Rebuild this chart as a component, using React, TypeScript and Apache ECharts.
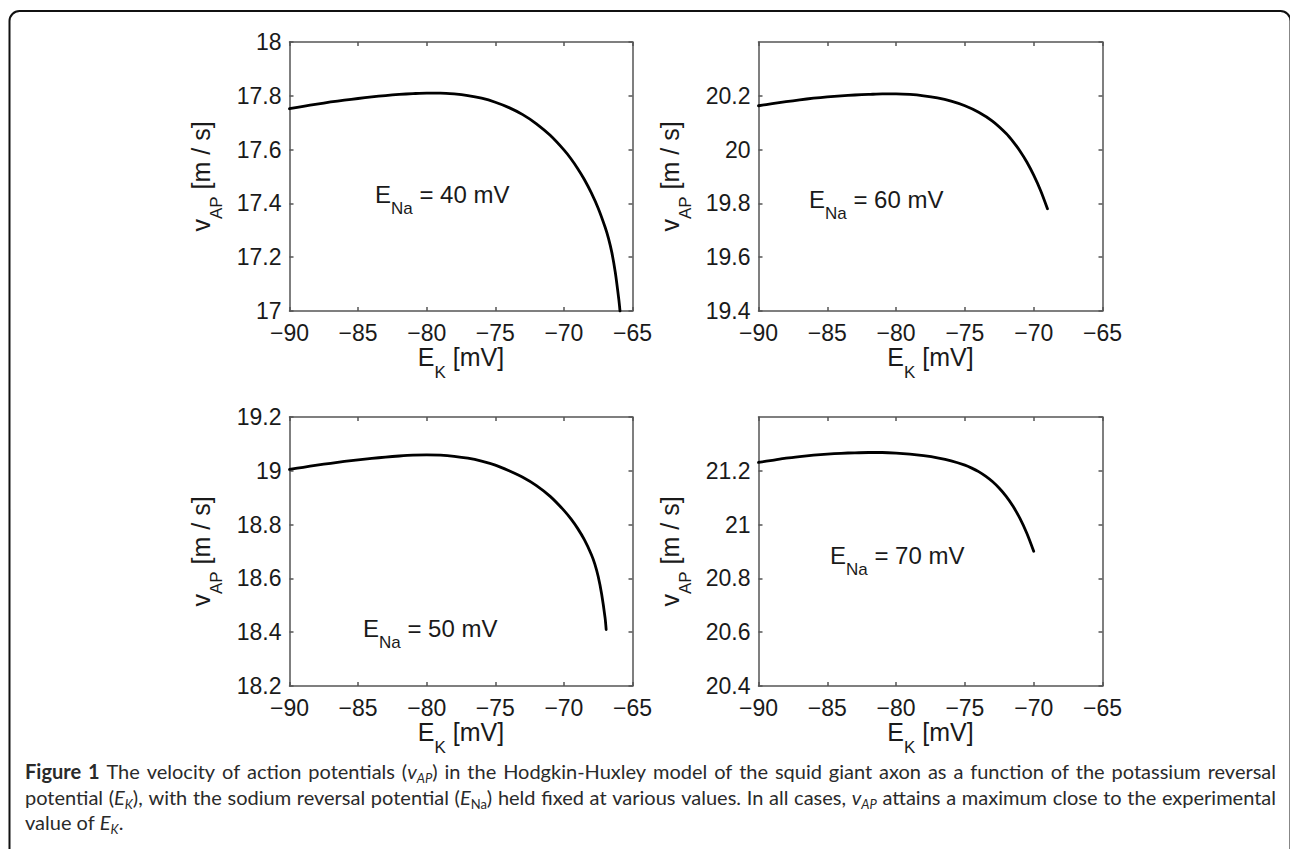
import React, { useEffect, useRef } from "react";
import * as echarts from "echarts";

// ---------------- data ----------------
const X_MIN = -90;
const X_MAX = -65;
const X_STEP = 5;
const Y_STEP = 0.2;

// E_Na = 40 mV
const ekNa40 = [-90, -89, -88, -87, -86, -85, -84, -83, -82, -81, -80, -79, -78, -77, -76, -75, -74, -73, -72, -71, -70, -69.5, -69, -68.5, -68, -67.5, -67, -66.75, -66.5, -66.25, -66, -65.91];
const vNa40 = [17.752, 17.761, 17.769, 17.777, 17.784, 17.79, 17.796, 17.801, 17.805, 17.808, 17.81, 17.81, 17.807, 17.801, 17.791, 17.776, 17.756, 17.73, 17.696, 17.653, 17.599, 17.567, 17.53, 17.488, 17.439, 17.382, 17.312, 17.27, 17.216, 17.142, 17.044, 17.0];

// E_Na = 60 mV
const ekNa60 = [-90, -89, -88, -87, -86, -85, -84, -83, -82, -81, -80, -79, -78, -77, -76, -75, -74, -73, -72, -71.5, -71, -70.5, -70, -69.5, -69];
const vNa60 = [20.163, 20.171, 20.178, 20.185, 20.191, 20.196, 20.2, 20.203, 20.205, 20.207, 20.207, 20.205, 20.2, 20.192, 20.18, 20.163, 20.139, 20.106, 20.06, 20.03, 19.995, 19.954, 19.905, 19.848, 19.78];

// E_Na = 50 mV
const ekNa50 = [-90, -89, -88, -87, -86, -85, -84, -83, -82, -81, -80, -79, -78, -77, -76, -75, -74, -73, -72, -71, -70, -69.5, -69, -68.5, -68, -67.75, -67.5, -67.25, -67, -66.92];
const vNa50 = [19.005, 19.013, 19.021, 19.028, 19.035, 19.041, 19.046, 19.051, 19.055, 19.058, 19.059, 19.058, 19.054, 19.047, 19.036, 19.021, 19.0, 18.976, 18.945, 18.905, 18.853, 18.822, 18.786, 18.743, 18.689, 18.654, 18.607, 18.542, 18.454, 18.41];

// E_Na = 70 mV
const ekNa70 = [-90, -89, -88, -87, -86, -85, -84, -83, -82, -81, -80, -79, -78, -77, -76, -75, -74.5, -74, -73.5, -73, -72.5, -72, -71.5, -71, -70.5, -70];
const vNa70 = [21.231, 21.239, 21.247, 21.253, 21.258, 21.262, 21.265, 21.267, 21.268, 21.268, 21.266, 21.262, 21.256, 21.248, 21.237, 21.221, 21.21, 21.197, 21.18, 21.16, 21.135, 21.105, 21.068, 21.023, 20.968, 20.901];

const yRanges = [
  [17, 18],
  [19.4, 20.4],
  [18.2, 19.2],
  [20.4, 21.4],
];
const eNaValues = ["40", "60", "50", "70"];

// caption fragments: [style, text]
const captionLine1 = [
  ["b", "Figure 1"],
  ["n", " The velocity of action potentials ("],
  ["i", "v"],
  ["is", "AP"],
  ["n", ") in the Hodgkin-Huxley model of the squid giant axon as a function of the potassium reversal"],
];
const captionLine2 = [
  ["n", "potential ("],
  ["i", "E"],
  ["is", "K"],
  ["n", "), with the sodium reversal potential ("],
  ["i", "E"],
  ["s", "Na"],
  ["n", ") held fixed at various values. In all cases, "],
  ["i", "v"],
  ["is", "AP"],
  ["n", " attains a maximum close to the experimental"],
];
const captionLine3 = [
  ["n", "value of "],
  ["i", "E"],
  ["is", "K"],
  ["n", "."],
];

// ---------------- layout & style ----------------
const FONT = "'Liberation Sans', Arial, Helvetica, sans-serif";
const CAP_FONT = "Lato, 'Open Sans', sans-serif";
const TXT = "#1a1a1a";
const AXC = { color: "#555", width: 1.5 };

const PANELS = [
  { ek: ekNa40, v: vNa40, grid: { left: 289.5, top: 42, width: 343, height: 269 }, ann: [375, 194.5], hideMax: false },
  { ek: ekNa60, v: vNa60, grid: { left: 758.5, top: 42, width: 344, height: 269 }, ann: [809, 199.5], hideMax: true },
  { ek: ekNa50, v: vNa50, grid: { left: 289.5, top: 417, width: 343, height: 269 }, ann: [363, 628.5], hideMax: false },
  { ek: ekNa70, v: vNa70, grid: { left: 758.5, top: 417, width: 344, height: 269 }, ann: [830, 555.5], hideMax: true },
];

const CAP_MAX_SIZE = 20;
const CAP_LEFT = 25;
const CAP_WIDTH = 1251;
const CAP_CENTERS = [771, 797, 822];

function capFonts(size: number) {
  const sub = Math.round(size * 0.65);
  return {
    b: `bold ${size}px ${CAP_FONT}`,
    n: `${size}px ${CAP_FONT}`,
    i: `italic ${size}px ${CAP_FONT}`,
    is: `italic ${sub}px ${CAP_FONT}`,
    s: `${sub}px ${CAP_FONT}`,
  } as Record<string, string>;
}

function splitItems(frags: string[][]) {
  const items: { st: string; t: string }[] = [];
  frags.forEach(([st, text]) => {
    text.split(" ").forEach((w, k) => {
      if (k > 0) items.push({ st: "sp", t: " " });
      if (w.length) items.push({ st, t: w });
    });
  });
  return items;
}

function measureItems(items: { st: string; t: string }[], size: number, ctx: CanvasRenderingContext2D | null) {
  const fonts = capFonts(size);
  let words = 0;
  let spaces = 0;
  items.forEach((it) => {
    if (it.st === "sp") spaces++;
    else if (ctx) {
      ctx.font = fonts[it.st];
      words += ctx.measureText(it.t).width;
    }
  });
  let spaceW = size * 0.25;
  if (ctx) {
    ctx.font = fonts.n;
    spaceW = ctx.measureText(" ").width;
  }
  return { words, spaces, spaceW };
}

function capRich(size: number, spW: number) {
  const sub = Math.round(size * 0.65);
  const pad = Math.round(size * 0.5);
  const base = { fontFamily: CAP_FONT, fill: "#2a2a2a", verticalAlign: "top" as const };
  return {
    b: { ...base, fontSize: size, fontWeight: "bold" },
    n: { ...base, fontSize: size },
    i: { ...base, fontSize: size, fontStyle: "italic" },
    is: { ...base, fontSize: sub, fontStyle: "italic", padding: [pad, 0, 0, 0] },
    s: { ...base, fontSize: sub, padding: [pad, 0, 0, 0] },
    sp: { ...base, fontSize: size, width: spW },
  };
}

const fmtX = (v: number) => (v < 0 ? "\u2212" + Math.abs(v) : String(v));

export default function App() {
  const ref = useRef<HTMLDivElement>(null);

  useEffect(() => {
    if (!ref.current) return;
    const chart = echarts.init(ref.current, undefined, { renderer: "svg" });

    const canvas = document.createElement("canvas");
    const ctx = canvas.getContext("2d");

    const titleRich = {
      m: { fontSize: 25, fontFamily: FONT, color: TXT, verticalAlign: "top" },
      s: { fontSize: 17, fontFamily: FONT, color: TXT, verticalAlign: "top", padding: [19.5, 0, 0, 0] },
    };

    const grids: any[] = [];
    const xAxes: any[] = [];
    const yAxes: any[] = [];
    const series: any[] = [];
    const graphics: any[] = [];

    PANELS.forEach((p, i) => {
      const [yMin, yMax] = yRanges[i];
      grids.push({ ...p.grid, containLabel: false });
      const xBase = {
        type: "value",
        gridIndex: i,
        min: X_MIN,
        max: X_MAX,
        interval: X_STEP,
        axisLine: { show: true, onZero: false, lineStyle: AXC },
        axisTick: { show: true, inside: true, length: 4, lineStyle: AXC },
        splitLine: { show: false },
      };
      xAxes.push({
        ...xBase,
        position: "bottom",
        axisLabel: { show: true, margin: 10, color: TXT, fontSize: 23, fontFamily: FONT, formatter: fmtX },
        name: "{m|E}{s|K}{m| [mV]}",
        nameLocation: "middle",
        nameGap: 30,
        nameTextStyle: { fontSize: 25, fontFamily: FONT, color: TXT, rich: titleRich },
      });
      xAxes.push({ ...xBase, position: "top", axisLabel: { show: false } });

      const yBase = {
        type: "value",
        gridIndex: i,
        min: yMin,
        max: yMax,
        interval: Y_STEP,
        axisLine: { show: true, onZero: false, lineStyle: AXC },
        axisTick: { show: true, inside: true, length: 4, lineStyle: AXC },
        splitLine: { show: false },
      };
      yAxes.push({
        ...yBase,
        position: "left",
        axisLabel: {
          show: true,
          margin: 8,
          color: TXT,
          fontSize: 23,
          fontFamily: FONT,
          showMaxLabel: !p.hideMax,
          showMinLabel: true,
        },
        name: "{m|v}{s|AP}{m| [m / s]}",
        nameLocation: "middle",
        nameGap: 65,
        nameRotate: 90,
        nameTextStyle: { fontSize: 25, fontFamily: FONT, color: TXT, rich: titleRich },
      });
      yAxes.push({ ...yBase, position: "right", axisLabel: { show: false } });

      series.push({
        type: "line",
        name: `E_Na = ${eNaValues[i]} mV`,
        xAxisIndex: 2 * i,
        yAxisIndex: 2 * i,
        data: p.ek.map((x, k) => [x, p.v[k]]),
        showSymbol: false,
        smooth: 0.3,
        silent: true,
        lineStyle: { color: "#000", width: 2.8, cap: "round", join: "round" },
      });

      graphics.push({
        type: "text",
        x: p.ann[0],
        y: p.ann[1] - 12,
        silent: true,
        style: {
          text: `{m|E}{s|Na}{m| = ${eNaValues[i]} mV}`,
          align: "left",
          verticalAlign: "top",
          fontSize: 24,
          fontFamily: FONT,
          fill: TXT,
          rich: {
            m: { fontSize: 24, fontFamily: FONT, fill: TXT, verticalAlign: "top" },
            s: { fontSize: 17, fontFamily: FONT, fill: TXT, verticalAlign: "top", padding: [17.5, 0, 0, 0] },
          },
        },
      });
    });

    // outer frame
    graphics.push({
      type: "rect",
      silent: true,
      shape: { x: 9.5, y: 11, width: 1281, height: 900, r: 10 },
      style: { fill: "none", stroke: "#111", lineWidth: 2 },
    });

    // caption: pick a size so the longest line fits, then justify lines 1-2
    const lines = [captionLine1, captionLine2, captionLine3].map(splitItems);
    let size = CAP_MAX_SIZE;
    for (let k = 0; k < 2; k++) {
      const m = measureItems(lines[k], CAP_MAX_SIZE, ctx);
      const natural = m.words + m.spaces * m.spaceW;
      const fit = (CAP_MAX_SIZE * CAP_WIDTH) / natural;
      if (fit < size) size = fit;
    }
    size = Math.floor(size * 10) / 10;
    lines.forEach((items, k) => {
      const m = measureItems(items, size, ctx);
      let spW = m.spaceW;
      if (k < 2 && m.spaces > 0 && ctx) spW = (CAP_WIDTH - m.words) / m.spaces;
      const text = items.map((it) => `{${it.st}|${it.t}}`).join("");
      graphics.push({
        type: "text",
        x: CAP_LEFT,
        y: CAP_CENTERS[k] - size / 2,
        silent: true,
        style: {
          text,
          align: "left",
          verticalAlign: "top",
          fontSize: size,
          fontFamily: CAP_FONT,
          fill: "#2a2a2a",
          rich: capRich(size, spW),
        },
      });
    });

    chart.setOption({
      animation: false,
      backgroundColor: "#fff",
      grid: grids,
      xAxis: xAxes,
      yAxis: yAxes,
      series,
      graphic: graphics,
    });

    return () => chart.dispose();
  }, []);

  return (
    <div
      ref={ref}
      style={{ position: "fixed", left: 0, top: 0, width: 1290, height: 849, background: "#fff" }}
    />
  );
}
